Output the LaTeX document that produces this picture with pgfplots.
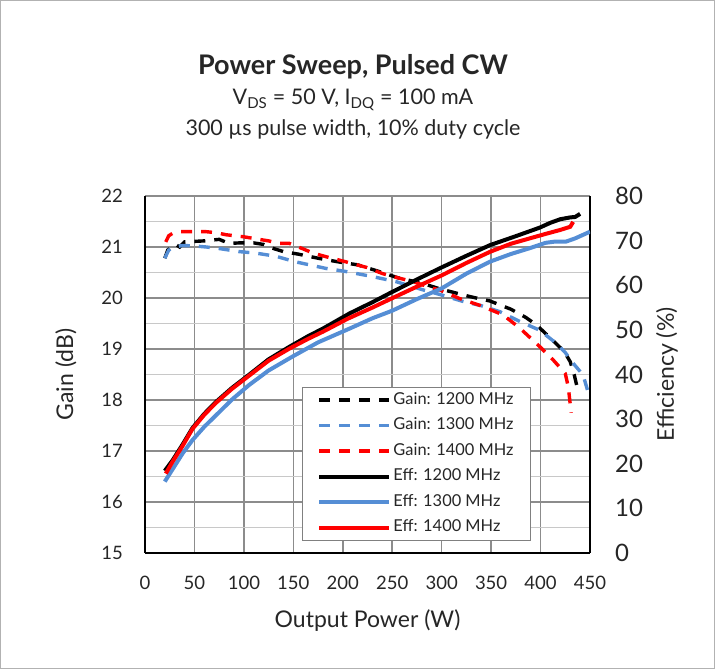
\documentclass[border=0pt]{standalone}
\usepackage{fontspec}
\setmainfont{Lato}
\usepackage{pgfplots}
\pgfplotsset{compat=1.18}
\definecolor{cblue}{HTML}{558ED5}
\definecolor{cred}{HTML}{FF0000}
\definecolor{gmaj}{HTML}{8C8C8C}
\definecolor{gmin}{HTML}{C8C8C8}
\definecolor{txt}{HTML}{262626}
\begin{document}
\begin{tikzpicture}[x=1pt,y=1pt]
\draw[gray!60, line width=1pt] (0.5,0.5) rectangle (714.5,668.5);
\useasboundingbox (0,0) rectangle (715,669);
\node[font=\fontsize{27}{32}\selectfont\bfseries, text=txt] at (353,602) {Power Sweep, Pulsed CW};
\node[font=\fontsize{21.5}{25}\selectfont, text=txt] at (353,569) {V\textsubscript{DS} = 50 V, I\textsubscript{DQ} = 100 mA};
\node[font=\fontsize{21.5}{25}\selectfont, text=txt] at (353,540) {300 µs pulse width, 10\% duty cycle};

\pgfplotsset{
  dstyle/.style={line width=3.4pt, dash pattern=on 11pt off 9pt},
  sstyle/.style={line width=4pt},
}

\begin{axis}[
  at={(145pt,116pt)}, anchor=south west, scale only axis,
  width=445pt, height=357pt,
  xmin=0, xmax=450, ymin=15, ymax=22,
  xtick={0,50,...,450}, ytick={15,16,...,22}, minor y tick num=1,
  grid=both,
  major grid style={gmaj, line width=1.6pt},
  minor grid style={gmin, line width=1.6pt},
  axis x line*=bottom, axis y line*=left,
  axis line style={black, line width=2.6pt, -},
  major tick length=0pt, minor tick length=0pt,
  /pgf/number format/assume math mode=true,
  tick label style={font=\fontsize{18.5}{21}\selectfont, text=txt, inner sep=0pt},
  xticklabel style={yshift=-23pt},
  yticklabel style={xshift=-22pt},
  xlabel={Output Power (W)},
  ylabel={Gain (dB)},
  label style={font=\fontsize{23}{27}\selectfont, text=txt},
  xlabel style={at={(axis description cs:0.5,-0.188)}, anchor=center},
  ylabel style={at={(axis description cs:-0.178,0.5)}, anchor=center, rotate=0},
]
\addplot[black, dstyle] coordinates {
(20,20.78) (23,20.94) (27,21.00) (31,21.05) (35,21.00) (40,21.10) (50,21.11) (60,21.12) (75,21.15) (85,21.07) (95,21.08) (110,21.08) (120,21.05) (130,20.97) (140,20.91) (155,20.86) (175,20.78) (195,20.71) (215,20.65) (235,20.53) (255,20.40) (280,20.29) (298,20.18) (328,20.03) (349,19.94) (370,19.78) (385,19.62) (396,19.47) (408,19.25) (416,19.10) (424,18.95) (430,18.75) (434,18.5) (437,18.25)
};
\addplot[cblue, dstyle] coordinates {
(20,20.78) (24,20.94) (30,21.00) (38,21.03) (50,21.02) (62,21.00) (75,20.97) (95,20.91) (112,20.88) (132,20.82) (152,20.71) (183,20.58) (203,20.52) (230,20.42) (254,20.32) (281,20.16) (298,20.07) (322,19.93) (340,19.85) (359,19.73) (379,19.54) (399,19.37) (416,19.11) (425,18.93) (433,18.72) (443,18.49) (448,18.16)
};
\addplot[cred, dstyle] coordinates {
(21,21.10) (24,21.22) (28,21.27) (35,21.30) (45,21.30) (62,21.30) (72,21.28) (82,21.24) (100,21.20) (112,21.16) (125,21.12) (136,21.07) (146,21.07) (159,20.97) (170,20.88) (183,20.81) (203,20.71) (224,20.60) (240,20.48) (251,20.42) (271,20.32) (291,20.19) (298,20.16) (318,19.99) (338,19.86) (362,19.67) (379,19.41) (399,19.05) (413,18.78) (425,18.52) (428,18.26) (431,17.75)
};
\end{axis}

\begin{axis}[
  at={(145pt,116pt)}, anchor=south west, scale only axis,
  width=445pt, height=357pt,
  xmin=0, xmax=450, ymin=0, ymax=80,
  ytick={0,10,...,80},
  axis x line=none, axis y line*=right,
  axis line style={black, line width=2.6pt, -},
  major tick length=0pt,
  /pgf/number format/assume math mode=true,
  tick label style={font=\fontsize{24}{28}\selectfont, text=txt, inner sep=0pt},
  yticklabel style={xshift=25pt},
  ylabel={Efficiency (\%)},
  label style={font=\fontsize{23}{27}\selectfont, text=txt},
  ylabel style={at={(axis description cs:1.173,0.5)}, anchor=center, rotate=0},
  legend cell align=left,
  legend image code/.code={\draw[#1] (0pt,0pt) -- (70pt,0pt);},
  legend style={at={(axis description cs:0.353,0.465)}, anchor=north west,
    draw=gray, line width=0.8pt, fill=white,
    font=\fontsize{16.4}{19}\selectfont, text=txt,
    inner xsep=15pt, inner ysep=2.75pt, row sep=5.5pt,
    nodes={inner sep=2pt, text height=12pt, text depth=4pt},
    /tikz/every even column/.style={column sep=4pt}},
]
\addlegendimage{black, dstyle}
\addlegendentry{Gain: 1200 MHz}
\addlegendimage{cblue, dstyle}
\addlegendentry{Gain: 1300 MHz}
\addlegendimage{cred, dstyle}
\addlegendentry{Gain: 1400 MHz}
\addplot[black, sstyle] coordinates {
(20,18.4) (28,20.8) (38,24.3) (48,28.0) (60,31.2) (72,33.9) (88,37.0) (105,39.9) (125,43.4) (146,46.2) (165,48.6) (180,50.3) (207,53.7) (230,56.2) (250,58.5) (275,61.3) (300,64.0) (325,66.6) (349,69.0) (375,71.0) (399,72.9) (410,74.0) (420,74.8) (430,75.2) (435,75.3) (440,76.0)
};
\addlegendentry{Eff: 1200 MHz}
\addplot[cblue, sstyle] coordinates {
(20,16.0) (30,19.5) (38,22.3) (48,25.3) (60,28.3) (72,30.9) (88,34.4) (105,37.6) (125,40.9) (149,44.0) (175,47.2) (207,50.3) (230,52.6) (250,54.3) (275,56.9) (300,59.3) (325,62.6) (349,65.3) (370,67.0) (389,68.3) (405,69.5) (415,69.8) (426,69.8) (435,70.5) (450,72.0)
};
\addlegendentry{Eff: 1300 MHz}
\addplot[cred, sstyle] coordinates {
(21,17.8) (28,20.5) (38,24.0) (48,27.8) (60,31.0) (72,33.7) (88,36.8) (105,39.7) (125,43.1) (146,45.8) (165,48.0) (180,49.6) (205,52.5) (230,55.0) (250,57.1) (275,59.7) (300,62.2) (325,65.0) (349,67.5) (370,69.3) (389,70.5) (405,71.5) (420,72.4) (430,73.1) (433,74.2)
};
\addlegendentry{Eff: 1400 MHz}
\end{axis}
\end{tikzpicture}
\end{document}
